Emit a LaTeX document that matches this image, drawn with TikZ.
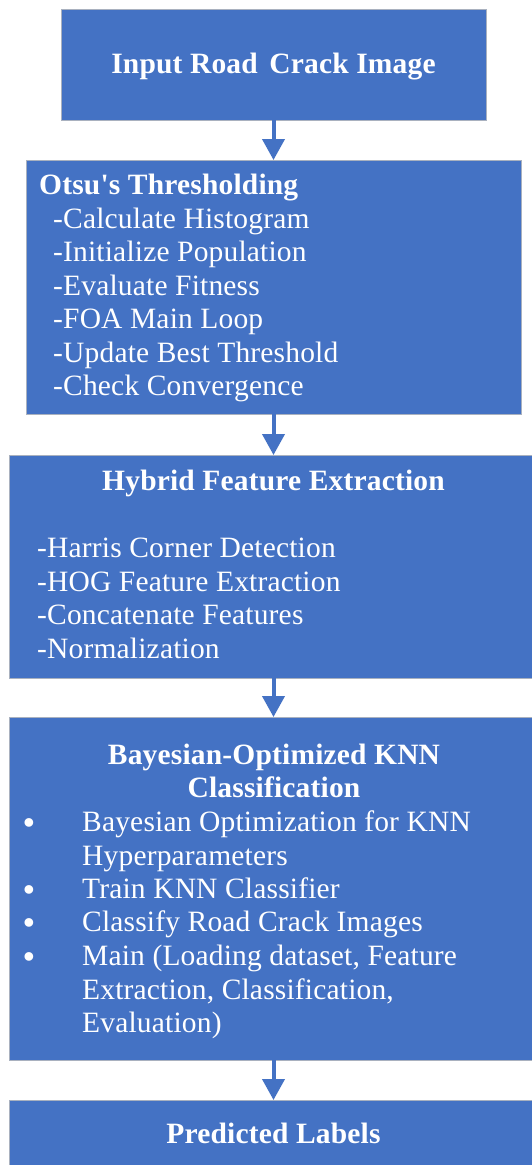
\documentclass[tikz,border=0pt]{standalone}
\usepackage{fontspec}
\setmainfont{Liberation Serif}
\newfontfamily\diagfont{Liberation Serif}[LetterSpace=0.6]
\usetikzlibrary{arrows.meta}
\definecolor{boxblue}{HTML}{4472C4}
\definecolor{boxedge}{HTML}{A9B1BF}
\begin{document}
\begin{tikzpicture}[x=1pt,y=1pt,
  box/.style={draw=boxedge, line width=1pt, fill=boxblue, anchor=north west, inner sep=0pt, outer sep=0pt},
  txt/.style={text=white, inner sep=0pt, font=\diagfont\fontsize{29.5}{33}\selectfont},
  ttl/.style={txt, font=\diagfont\fontsize{29.5}{33}\selectfont\bfseries, anchor=base},
  ttlw/.style={txt, font=\diagfont\fontsize{29.5}{33}\selectfont\bfseries, anchor=base west},
  item/.style={txt, anchor=base west},
  bul/.style={text=white, inner sep=0pt, font=\diagfont\fontsize{32}{32}\selectfont\bfseries, anchor=base},
  arr/.style={draw=boxblue, line width=4pt, -{Triangle[width=22pt,length=21pt]}}]
\useasboundingbox (0,0) rectangle (532,-1165);
\fill[white] (0,0) rectangle (532,-1165);
% boxes
\node[box, minimum width=425pt, minimum height=111pt] (b1) at (61,-9) {};
\node[box, minimum width=495pt, minimum height=254pt] (b2) at (26,-160) {};
\node[box, minimum width=528pt, minimum height=223pt] (b3) at (9.5,-455) {};
\node[box, minimum width=528pt, minimum height=343pt] (b4) at (9.5,-717) {};
\node[box, minimum width=528pt, minimum height=90pt] (b5) at (9.5,-1100) {};
% arrows
\draw[arr] (b1.south) -- (b2.north);
\draw[arr] (b2.south) -- (b3.north);
\draw[arr] (b3.south) -- (b4.north);
\draw[arr] (b4.south) -- (b5.north);
% box 1
\node[ttl] (t1) at (273.5,-73) {Input Road\hspace{4pt} Crack Image};
% box 2
\node[ttlw] (t2) at (39,-194) {Otsu's Thresholding};
\node[item] (o1) at (53,-228) {-Calculate Histogram};
\node[item] (o2) at (53,-261) {-Initialize Population};
\node[item] (o3) at (53,-295) {-Evaluate Fitness};
\node[item] (o4) at (53,-328) {-FOA Main Loop};
\node[item] (o5) at (53,-362) {-Update Best Threshold};
\node[item] (o6) at (53,-395) {-Check Convergence};
% box 3
\node[ttl] (t3) at (273.5,-490) {Hybrid Feature Extraction};
\node[item] (h1) at (37,-557) {-Harris Corner Detection};
\node[item] (h2) at (37,-591) {-HOG Feature Extraction};
\node[item] (h3) at (37,-624) {-Concatenate Features};
\node[item] (h4) at (37,-658) {-Normalization};
% box 4
\node[ttl] (t4a) at (274,-764) {Bayesian-Optimized KNN};
\node[ttl] (t4b) at (274,-797) {Classification};
\node[bul] (k1b) at (29,-833) {\textbullet};
\node[item] (k1) at (82,-831) {Bayesian Optimization for KNN};
\node[item] (k1c) at (82,-865) {Hyperparameters};
\node[bul] (k2b) at (29,-900) {\textbullet};
\node[item] (k2) at (82,-898) {Train KNN Classifier};
\node[bul] (k3b) at (29,-933) {\textbullet};
\node[item] (k3) at (82,-931) {Classify Road Crack Images};
\node[bul] (k4b) at (29,-967) {\textbullet};
\node[item] (k4) at (82,-965) {Main (Loading dataset, Feature};
\node[item] (k4c) at (82,-999) {Extraction, Classification,};
\node[item] (k4d) at (82,-1032) {Evaluation)};
% box 5
\node[ttl] (t5) at (273.5,-1143) {Predicted Labels};
\end{tikzpicture}
\end{document}
